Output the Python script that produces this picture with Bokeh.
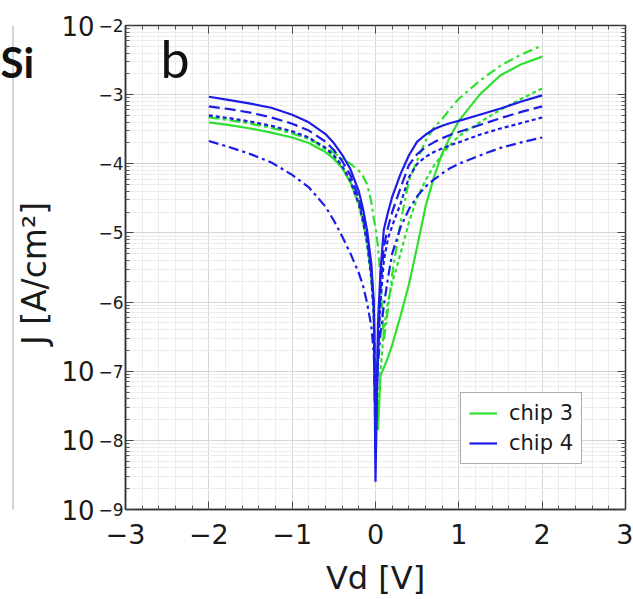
import math
from bokeh.plotting import figure
from bokeh.layouts import row
from bokeh.core.properties import value
from bokeh.models import (FixedTicker, LinearAxis, LogAxis, Label, Legend, LegendItem, Range1d)
from bokeh.embed import file_html
from bokeh.resources import INLINE

# ---------------- data ----------------
vd = [-2.0, -1.75, -1.5, -1.25, -1.0, -0.8, -0.6, -0.5, -0.4, -0.3, -0.2, -0.15, -0.1,
      -0.05, -0.02, 0.0, 0.03, 0.06, 0.1, 0.15, 0.2, 0.3, 0.4, 0.5, 0.6, 0.7, 0.8, 0.9,
      1.0, 1.25, 1.5, 1.75, 2.0]

# log10(J [A/cm^2])
chip3_solid = [-3.40, -3.44, -3.49, -3.55, -3.62, -3.70, -3.83, -3.93, -4.06, -4.27, -4.58,
               -4.82, -5.12, -5.60, -6.10, -6.90, -7.85, -7.06, -6.95, -6.80, -6.62, -6.20,
               -5.75, -5.20, -4.62, -4.20, -3.85, -3.60, -3.38, -3.00, -2.72, -2.56, -2.45]
chip3_dashdot = [-3.33, -3.37, -3.42, -3.48, -3.56, -3.64, -3.76, -3.84, -3.93, -4.00, -4.10,
                 -4.18, -4.30, -4.55, -4.80, -4.92, -5.20, -5.65, -6.55, -6.10, -5.60, -4.85,
                 -4.25, -3.95, -3.67, -3.48, -3.35, -3.20, -3.06, -2.80, -2.58, -2.42, -2.29]
chip3_dotted = [-3.32, -3.36, -3.41, -3.47, -3.55, -3.64, -3.79, -3.90, -4.05, -4.27, -4.60,
                -4.85, -5.17, -5.68, -6.20, -7.20, -7.55, -7.00, -6.40, -6.00, -5.72, -5.30,
                -4.85, -4.49, -4.24, -4.03, -3.87, -3.72, -3.60, -3.40, -3.22, -3.06, -2.91]
chip4_solid = [-3.03, -3.08, -3.13, -3.19, -3.29, -3.40, -3.57, -3.70, -3.87, -4.08, -4.40,
               -4.65, -4.97, -5.45, -6.00, -8.60, -6.30, -5.55, -4.95, -4.70, -4.48, -4.15,
               -3.88, -3.68, -3.58, -3.50, -3.45, -3.41, -3.38, -3.29, -3.20, -3.10, -3.01]
chip4_longdash = [-3.17, -3.21, -3.26, -3.33, -3.42, -3.52, -3.68, -3.80, -3.96, -4.17, -4.50,
                  -4.75, -5.05, -5.55, -6.10, -8.20, -6.60, -5.80, -5.20, -4.92, -4.70, -4.35,
                  -4.02, -3.86, -3.76, -3.69, -3.63, -3.58, -3.54, -3.44, -3.34, -3.25, -3.17]
chip4_dotted = [-3.30, -3.34, -3.39, -3.45, -3.53, -3.62, -3.77, -3.88, -4.03, -4.25, -4.58,
                -4.83, -5.15, -5.65, -6.20, -7.90, -6.80, -6.00, -5.40, -5.08, -4.90, -4.58,
                -4.20, -4.00, -3.90, -3.83, -3.78, -3.73, -3.69, -3.58, -3.49, -3.41, -3.33]
chip4_dashdot = [-3.67, -3.76, -3.86, -3.98, -4.16, -4.34, -4.62, -4.82, -5.05, -5.30, -5.58,
                 -5.76, -6.02, -6.35, -6.75, -7.70, -6.90, -6.45, -6.05, -5.65, -5.30, -4.92,
                 -4.66, -4.47, -4.33, -4.23, -4.14, -4.06, -4.00, -3.88, -3.77, -3.69, -3.62]

x_ticks = [-3, -2, -1, 0, 1, 2, 3]
x_tick_labels = ["\u22123", "\u22122", "\u22121", "0", "1", "2", "3"]
y_tick_exps = [-2, -3, -4, -5, -6, -7, -8, -9]
y_tick_base = ["10", "", "", "", "", "10", "10", "10"]
y_tick_exp_labels = ["\u22122", "\u22123", "\u22124", "\u22125", "\u22126", "\u22127", "\u22128", "\u22129"]
legend_labels = ["chip 3", "chip 4"]
y_title = "J [A/cm\u00b2]"
x_title = "Vd [V]"
panel_letter = "b"
side_text = "Si"

GREEN = "#2fe02f"
BLUE = "#1c1ce6"
FONT = "DejaVu Sans"
TXT = "#1a1a1a"

LEFT_W = 54   # strip on the left holding the neighbour-panel text and the y title
TOP, BOTTOM = 25, 90

# ---------------- left strip (decorations + y title) ----------------
# its frame is aligned with the main frame (canvas rows 25..509); y range = canvas rows
s = figure(width=LEFT_W, height=599, x_range=Range1d(0, LEFT_W),
           y_range=Range1d(599 - BOTTOM, TOP),
           output_backend="svg", toolbar_location=None,
           min_border_left=0, min_border_right=0, min_border_top=TOP, min_border_bottom=BOTTOM,
           x_axis_location=None, y_axis_location=None)
s.grid.visible = False
s.outline_line_color = None
s.background_fill_color = "white"
s.border_fill_color = "white"
s.segment(x0=[12.5], y0=[0], x1=[12.5], y1=[599], line_color="#d4d4d4", line_width=2)
s.text(x=[0], y=[61], text=[side_text], text_font=value("Lato"), text_font_size="42px",
       text_font_style="bold", text_color="#111111", text_baseline="middle",
       text_align="left")
s.text(x=[33.5], y=[273], text=[y_title], angle=math.pi / 2, text_font=value(FONT),
       text_font_size="33px", text_color=TXT, text_baseline="middle", text_align="center")

# ---------------- main figure ----------------
p = figure(width=633 - LEFT_W, height=599, x_range=Range1d(-3, 3), y_range=Range1d(1e-9, 1e-2),
           y_axis_type="log", output_backend="svg", toolbar_location=None,
           min_border_left=125 - LEFT_W, min_border_right=8, min_border_top=TOP,
           min_border_bottom=BOTTOM)
p.background_fill_color = "white"
p.border_fill_color = "white"
p.outline_line_color = "#333333"
p.outline_line_width = 1.5

x_major = FixedTicker(ticks=x_ticks,
                      minor_ticks=[round(-3 + 0.2 * i, 2) for i in range(31)])
y_major = FixedTicker(ticks=[10.0 ** e for e in y_tick_exps],
                      minor_ticks=[k * 10.0 ** e for e in range(-9, -2) for k in range(2, 10)])

# bottom axis
xa = p.xaxis[0]
xa.ticker = x_major
xa.major_label_overrides = {t: s_ for t, s_ in zip(x_ticks, x_tick_labels)}
xa.major_label_text_font = FONT
xa.major_label_text_font_size = "27px"
xa.major_label_text_color = TXT
xa.major_label_standoff = 14
xa.axis_label = x_title
xa.axis_label_text_font = FONT
xa.axis_label_text_font_size = "32px"
xa.axis_label_text_font_style = "normal"
xa.axis_label_text_color = TXT
xa.axis_label_standoff = 12

# left axis: exponent part of the tick labels
ya = p.yaxis[0]
ya.ticker = y_major
ya.major_label_overrides = {10.0 ** e: s_ for e, s_ in zip(y_tick_exps, y_tick_exp_labels)}
ya.major_label_text_font = FONT
ya.major_label_text_font_size = "17px"
ya.major_label_text_color = TXT
ya.major_label_standoff = 2
ya.major_label_text_baseline = "alphabetic"

for ax in (xa, ya):
    ax.axis_line_color = "#333333"
    ax.axis_line_width = 1.5
    ax.major_tick_in = 8
    ax.major_tick_out = 0
    ax.minor_tick_in = 4
    ax.minor_tick_out = 0
    ax.major_tick_line_color = "#444444"
    ax.minor_tick_line_color = "#555555"

# outer left axis: "10" base of the tick labels
yb = LogAxis(ticker=y_major,
             major_label_overrides={10.0 ** e: s_ for e, s_ in zip(y_tick_exps, y_tick_base)},
             major_label_text_font=FONT, major_label_text_font_size="26px",
             major_label_text_color=TXT, major_label_standoff=1,
             axis_line_color=None, major_tick_line_color=None, minor_tick_line_color=None,
             major_tick_in=0, major_tick_out=0, minor_tick_in=0, minor_tick_out=0)
p.add_layout(yb, "left")

# top / right tick-only axes
top = LinearAxis(ticker=x_major, major_label_text_font_size="1px",
                 major_label_overrides={t: "" for t in x_ticks})
right = LogAxis(ticker=y_major, major_label_text_font_size="1px",
                major_label_overrides={10.0 ** e: "" for e in y_tick_exps})
for ax in (top, right):
    ax.axis_line_color = "#333333"
    ax.major_tick_in = 8
    ax.major_tick_out = 0
    ax.minor_tick_in = 4
    ax.minor_tick_out = 0
    ax.major_label_standoff = 0
    ax.major_tick_line_color = "#444444"
    ax.minor_tick_line_color = "#555555"
p.add_layout(top, "above")
p.add_layout(right, "right")

# grid
p.xgrid.ticker = x_major
p.ygrid.ticker = y_major
p.xgrid.grid_line_color = "#d6d6d6"
p.ygrid.grid_line_color = "#d6d6d6"
p.xgrid.minor_grid_line_color = "#ececec"
p.ygrid.minor_grid_line_color = "#ececec"

# ---------------- curves ----------------
def to_j(logs):
    return [10.0 ** v for v in logs]

curves = [
    (chip3_dotted, GREEN, "4 3"),
    (chip3_dashdot, GREEN, "10 4 3 4"),
    (chip3_solid, GREEN, "solid"),
    (chip4_dashdot, BLUE, "10 4 3 4"),
    (chip4_dotted, BLUE, "4 3"),
    (chip4_longdash, BLUE, "11 5"),
    (chip4_solid, BLUE, "solid"),
]
rends = {}
for logs, col, dash in curves:
    r = p.line(vd, to_j(logs), line_color=col, line_width=2.2, line_dash=dash)
    rends[id(logs)] = r

legend = Legend(items=[LegendItem(label=legend_labels[0], renderers=[rends[id(chip3_solid)]]),
                       LegendItem(label=legend_labels[1], renderers=[rends[id(chip4_solid)]])],
                location=(335, 45), label_text_font=FONT, label_text_font_size="21px",
                label_text_color=TXT, label_height=24, glyph_height=24, glyph_width=28,
                spacing=6, padding=8, margin=0, label_standoff=12,
                border_line_color="#555555", border_line_width=1,
                background_fill_color="white", background_fill_alpha=1.0)
p.add_layout(legend)

# panel letter
p.add_layout(Label(x=35, y=452, x_units="screen", y_units="screen", text=panel_letter,
                   text_font="Lato", text_font_size="52px", text_color="#111111",
                   text_baseline="middle"))

layout = row(s, p, spacing=0)
open("out.html", "w").write(file_html(layout, INLINE))
